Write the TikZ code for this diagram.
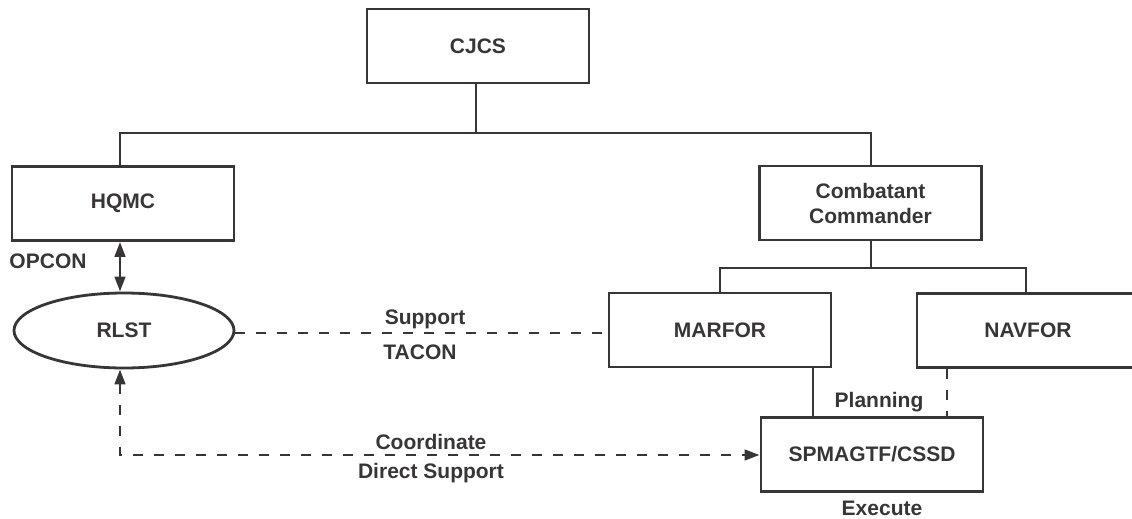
\documentclass[tikz,border=0pt]{standalone}
\usepackage{fontspec}
\setmainfont{Liberation Sans}
\usetikzlibrary{arrows.meta,shapes.geometric}
\definecolor{ink}{RGB}{55,53,54}
\begin{document}
\begin{tikzpicture}[x=1pt,y=-1pt,
  every node/.style={font=\fontsize{21}{25}\selectfont\bfseries, text=ink},
  box/.style={draw=ink, line width=2.8pt, minimum width=222pt, minimum height=74pt, inner sep=0pt, align=center},
  oval/.style={ellipse, draw=ink, line width=2.8pt, minimum width=220pt, minimum height=75pt, inner sep=0pt},
  lbl/.style={inner sep=0pt},
  conn/.style={draw=ink, line width=2.8pt},
  dconn/.style={draw=ink, line width=2.8pt, dash pattern=on 10pt off 11pt},
  tp/.tip={Triangle[length=15pt,width=10.5pt]}
]
\useasboundingbox (0,0) rectangle (1132,519);
\begin{scope}
\clip (0,0) rectangle (1132,519);
\node[box] (cjcs) at (478,46) {CJCS};
\node[box] (hqmc) at (123,203.5) {HQMC};
\node[box] (cc) at (870.5,203) {Combatant\\Commander};
\node[box] (marfor) at (720,330) {MARFOR};
\node[box] (navfor) at (1028,330.5) {NAVFOR};
\node[box] (spm) at (872,454.5) {SPMAGTF/CSSD};
\node[oval] (rlst) at (124,330.5) {RLST};

\coordinate (j1) at (476,133);
\coordinate (j1l) at (120,133);
\coordinate (j1r) at (871,133);
\coordinate (j2) at (871,268);
\coordinate (j2l) at (720,268);
\coordinate (j2r) at (1026,268);

\draw[conn] (cjcs.south -| j1) -- (j1);
\draw[conn] (hqmc.north -| j1l) -- (j1l) -- (j1r) -- (cc.north -| j1r);
\draw[conn] (cc.south -| j2) -- (j2);
\draw[conn] (marfor.north -| j2l) -- (j2l) -- (j2r) -- (navfor.north -| j2r);

\coordinate (mx) at (813,0);
\coordinate (nx) at (947,0);
\draw[conn] (marfor.south -| mx) -- (spm.north -| mx);
\draw[dconn] (navfor.south -| nx) -- (spm.north -| nx);

\coordinate (ox) at (120,0);
\draw[conn, tp-tp] (hqmc.south -| ox) -- (rlst.north -| ox);

\coordinate (sy) at (0,333);
\draw[dconn] (rlst.east |- sy) -- (marfor.west |- sy);

\coordinate (corner) at (120,455);
\draw[dconn, tp-tp] (rlst.south -| corner) -- (corner) -- (spm.west |- corner);

\node[lbl] (opcon) at (48,261) {OPCON};
\node[lbl] (support) at (425,319) {Support};
\node[lbl] (tacon) at (420,352) {TACON};
\node[lbl] (coord) at (431,442) {Coordinate};
\node[lbl] (dsup) at (431,473) {Direct Support};
\node[lbl] (plan) at (879,402) {Planning};
\node[lbl] (exec) at (882,508) {Execute};
\end{scope}
\end{tikzpicture}
\end{document}
